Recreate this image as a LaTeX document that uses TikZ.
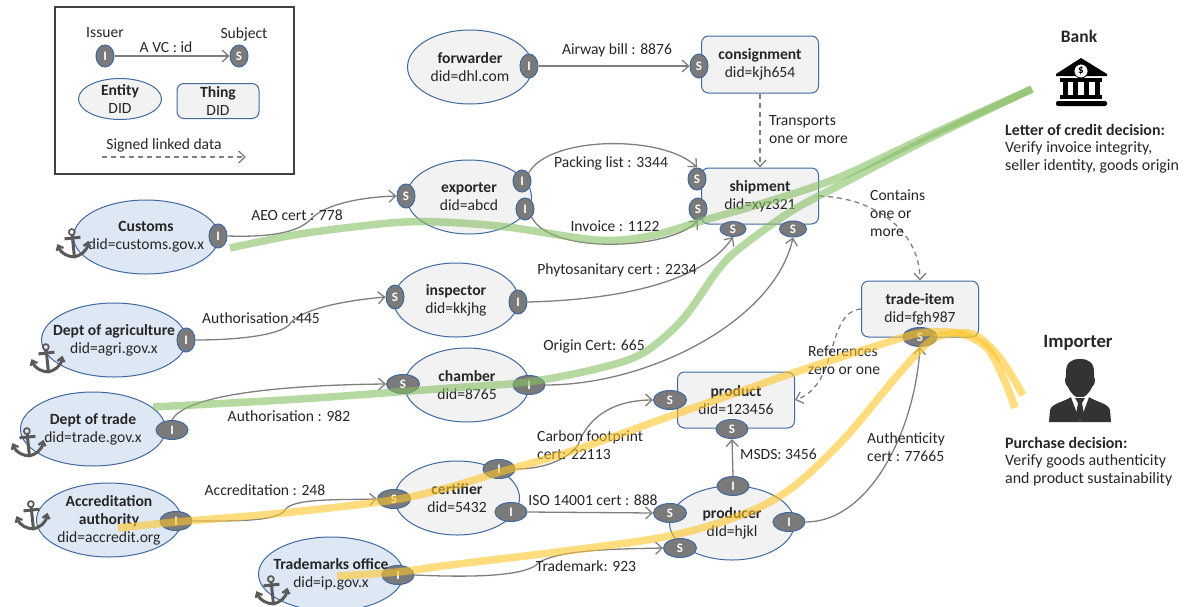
\documentclass[tikz,border=0pt]{standalone}
\usepackage{fontspec}
\setmainfont{Carlito}
\usetikzlibrary{shapes.geometric,arrows.meta}
\definecolor{ink}{HTML}{262626}
\definecolor{edge}{HTML}{7F7F7F}
\definecolor{blueline}{HTML}{41689F}
\definecolor{gov}{HTML}{DEE8F5}
\definecolor{pale}{HTML}{F2F2F2}
\definecolor{portfill}{HTML}{7A7A7A}
\definecolor{gr}{HTML}{86BE62}
\definecolor{ye}{HTML}{FFC527}
\definecolor{anchorc}{HTML}{595959}
\tikzset{
 x=1pt,y=-1pt,
 every node/.style={text=ink,font=\fontsize{15.6}{18}\selectfont,inner sep=0pt},
 lab/.style={align=left},
 entity/.style={ellipse,draw=blueline,line width=1pt,fill=pale,minimum width=125pt,minimum height=74pt,align=center,inner xsep=-30pt,inner ysep=-6pt},
 gov/.style={entity,fill=gov,minimum width=145pt},
 thing/.style={rectangle,rounded corners=7pt,draw=blueline,line width=1pt,fill=pale,minimum width=117pt,minimum height=56pt,align=center},
 portv/.style={ellipse,draw=blueline,line width=1pt,fill=portfill,text=white,font=\fontsize{13}{13}\selectfont\bfseries,minimum width=18pt,minimum height=24pt},
 porth/.style={portv,minimum width=32pt,minimum height=19pt},
 vc/.style={draw=edge,line width=1.3pt,-{Straight Barb[length=6.5pt,width=12pt]}},
 link/.style={vc,dash pattern=on 5pt off 4pt},
 thick green/.style={draw=gr,line width=7.5pt,opacity=.6,line cap=butt},
 thick yellow/.style={draw=ye,line width=7.5pt,opacity=.6,line cap=butt},
 anchoricon/.pic={
  \begin{scope}[draw=anchorc,line width=3pt,rotate=6]
   \draw[line width=1.7pt] (0,-11) circle (3);
   \draw (0,-8) -- (0,13);
   \draw (-8,-5) -- (8,-5);
   \draw (-15,2) .. controls (-13,10) and (-6,13) .. (0,14) .. controls (6,13) and (13,10) .. (15,2);
   \draw[line width=2.2pt] (-17,6) -- (-15,1) -- (-10,4);
   \draw[line width=2.2pt] (17,6) -- (15,1) -- (10,4);
  \end{scope}
 }
}
\begin{document}
\begin{tikzpicture}
\useasboundingbox (0,0) rectangle (1184,606);
% legend
\node[draw=black!75,line width=1.2pt,minimum width=239pt,minimum height=167pt] (legend) at (174.5,90.5) {};
\node (tIssuer) at (105,33) {Issuer};
\node (tSubject) at (244,34) {Subject};
\node[portv,minimum height=22pt] (lI) at (105,56) {I};
\node[portv,minimum height=22pt] (lS) at (239,56) {S};
\node (tvc) at (166,47) {A VC : id};
\node[entity,minimum width=83pt,minimum height=41pt,inner ysep=-12pt] (lE) at (120,99) {\textbf{Entity}\\DID};
\node[thing,minimum width=82pt,minimum height=35pt] (lT) at (218,101) {\textbf{Thing}\\DID};
\node (tsl) at (164,145) {Signed linked data};
\coordinate (ld1) at (102,157);
\coordinate (ld2) at (246,157);
% entities
\node[entity] (forwarder) at (470,67) {\textbf{forwarder}\\did=dhl.com};
\node[thing,minimum height=57pt] (consignment) at (760,64.5) {\textbf{consignment}\\did=kjh654};
\node[entity] (exporter) at (469,197) {\textbf{exporter}\\did=abcd};
\node[thing] (shipment) at (760,196) {\textbf{shipment}\\did=xyz321};
\node[gov] (customs) at (146,237) {\textbf{Customs}\\did=customs.gov.x};
\node[entity] (inspector) at (456,300) {\textbf{inspector}\\did=kkjhg};
\node[gov] (agri) at (114,340) {\textbf{Dept of agriculture}\\did=agri.gov.x};
\node[entity] (chamber) at (467,385) {\textbf{chamber}\\did=8765};
\node[gov] (trade) at (93,429) {\textbf{Dept of trade}\\did=trade.gov.x};
\node[gov] (accredit) at (109,520) {\textbf{Accreditation}\\\textbf{authority}\\did=accredit.org};
\node[gov] (ipo) at (331,574) {\textbf{Trademarks office}\\did=ip.gov.x};
\node[entity] (certifier) at (457,498) {\textbf{certifier}\\did=5432};
\node[thing] (product) at (736,400) {\textbf{product}\\did=123456};
\node[entity] (producer) at (732,523) {\textbf{producer}\\dId=hjkl};
\node[thing] (tradeitem) at (920,309) {\textbf{trade-item}\\did=fgh987};
% ports
\node[portv] (fI) at (529,66) {I};
\node[portv] (cS) at (699,66) {S};
\node[portv] (eS) at (406,196) {S};
\node[portv,minimum height=22pt] (eI1) at (522,181) {I};
\node[portv,minimum height=22pt] (eI2) at (525,209) {I};
\node[portv,minimum height=22pt] (sS1) at (697,179) {S};
\node[portv,minimum height=22pt] (sS2) at (698,209) {S};
\node[porth,minimum width=26pt,minimum height=15pt] (sB1) at (733,229) {S};
\node[porth,minimum width=27pt,minimum height=16pt] (sB2) at (793,229) {S};
\node[portv] (cuI) at (218,236) {I};
\node[portv] (iS) at (395,297) {S};
\node[portv] (iI) at (518,302) {I};
\node[portv] (aI) at (186,340) {I};
\node[porth] (tI) at (172,430) {I};
\node[porth,minimum width=33pt] (chS) at (403,384) {S};
\node[porth] (chI) at (529,385) {I};
\node[porth] (acI) at (176,521) {I};
\node[porth,minimum width=33pt] (ceS) at (394,499) {S};
\node[porth] (ceI1) at (499,469) {I};
\node[porth] (ceI2) at (511,512) {I};
\node[porth] (ipI) at (398,575) {I};
\node[porth,minimum width=33pt] (pS1) at (670,400) {S};
\node[porth] (pS2) at (732,429) {S};
\node[porth] (prI1) at (733,486) {I};
\node[porth,minimum width=33pt] (prS1) at (670,513) {S};
\node[porth,minimum width=33pt] (prS2) at (680,548) {S};
\node[porth] (prI2) at (789,522) {I};
\node[porth,minimum width=34pt] (tS) at (920,337) {S};
% connectors
\draw[vc] (lI) -- (lS);
\draw[link] (ld1) -- (ld2);
\draw[vc] (fI) -- (cS);
\draw[link] (consignment.south) -- (shipment.north);
\draw[vc] (cuI.east) .. controls (260,237) and (295,235) .. (310,220) .. controls (325,203) and (365,197) .. (eS.west);
\draw[vc] (eI1.north east) .. controls (550,135) and (665,135) .. (sS1.north);
\draw[vc] (eI2.south east) .. controls (550,255) and (670,250) .. (sS2.south);
\draw[vc] (iI.east) .. controls (610,300) and (700,285) .. (sB1.south);
\draw[vc] (aI.east) .. controls (240,340) and (278,335) .. (289,325) .. controls (300,308) and (350,300) .. (iS.west);
\draw[vc] (chI.east) .. controls (650,385) and (775,320) .. (sB2.south);
\draw[vc] (tI.north) .. controls (185,395) and (280,385) .. (chS.west);
\draw[vc] (acI.east) .. controls (230,521) and (278,522) .. (285,510) .. controls (292,498) and (340,500) .. (ceS.west);
\draw[vc] (ipI.east) .. controls (480,578) and (520,575) .. (535,566) .. controls (550,549) and (620,549) .. (prS2.west);
\draw[vc] (ceI1.east) .. controls (540,469) and (565,462) .. (578,445) .. controls (590,412) and (620,400) .. (pS1.west);
\draw[vc] (ceI2.east) -- (prS1.west);
\draw[vc] (prI1.north) -- (pS2.south);
\draw[vc] (prI2.east) .. controls (870,522) and (915,430) .. (tS.south);
\draw[link] (shipment.east) .. controls (880,198) and (920,235) .. (tradeitem.north);
\draw[link] (tradeitem.west) .. controls (825,312) and (840,385) .. (product.east);
% labels
\node (l1) at (617,50) {Airway bill :  8876};
\node[lab,anchor=west] (l2) at (769,130) {Transports\\one or more};
\node[lab,anchor=west] (l3) at (870,213) {Contains\\one or\\more};
\node (l4) at (611,163) {Packing list : 3344};
\node (l5) at (615,226) {Invoice : 1122};
\node (l6) at (617,270) {Phytosanitary cert : 2234};
\node (l7) at (297,215) {AEO cert : 778};
\node (l8) at (261,318) {Authorisation :445};
\node (l9) at (289,416) {Authorisation : 982};
\node (l10) at (265,490) {Accreditation : 248};
\node (l11) at (594,346) {Origin Cert: 665};
\node[lab,anchor=west] (l12) at (537,445.5) {Carbon footprint\\cert: 22113};
\node (l13) at (593,500) {ISO 14001 cert : 888};
\node[anchor=west] (l14) at (740,454) {MSDS: 3456};
\node[lab,anchor=west] (l15) at (808,360) {References\\zero or one};
\node[lab,anchor=west] (l16) at (867,447) {Authenticity\\cert : 77665};
\node (l17) at (586,566) {Trademark: 923};
% audit trails
\draw[thick green] plot[smooth,tension=.55] coordinates {(230,248) (300,234) (390,223) (440,222) (507,227) (597,240) (650,236) (705,220) (770,201) (840,177) (930,135) (1032,89)};
\draw[thick green] plot[smooth,tension=.55] coordinates {(153,407) (300,399) (450,388) (528,382) (600,368) (643,353) (682,320) (718,270) (740,248) (790,212) (840,185) (930,138) (1032,89)};
\draw[thick yellow] plot[smooth,tension=.55] coordinates {(118,528) (176,522) (283,513) (393,500) (450,487) (500,472) (575,450) (679,413) (793,373) (879,345) (921,333) (957,333) (986,347) (1003,377) (1015,408)};
\draw[thick yellow] plot[smooth,tension=.55] coordinates {(337,576) (398,572) (450,565) (557,552) (664,537) (736,517) (789,490) (843,440) (896,377) (929,342) (950,334) (975,335) (1000,358) (1023,395)};
% anchors
\pic (an1) at (73,243) {anchoricon};
\pic (an2) at (47,358) {anchoricon};
\pic (an3) at (28,442) {anchoricon};
\pic (an4) at (32,515) {anchoricon};
\pic (an5) at (272,590) {anchoricon};
% bank
\node[font=\fontsize{17.5}{18}\selectfont\bfseries] (bank) at (1079,36) {Bank};
\fill[black] (1081,58) -- (1107,74) -- (1107,76) -- (1056,76) -- (1056,74) -- cycle;
\fill[white,draw=black,line width=.8pt] (1081,71) circle (7);
\node[text=black,font=\fontsize{11}{11}\selectfont\bfseries] (dollar) at (1081,71) {\$};
\fill[black] (1060,78) rectangle (1102,82);
\fill[black] (1063,82) rectangle (1068,96);
\fill[black] (1073,82) rectangle (1078,96);
\fill[black] (1084,82) rectangle (1089,96);
\fill[black] (1095,82) rectangle (1100,96);
\fill[black] (1060,95) rectangle (1102,99);
\fill[black,rounded corners=2pt] (1056,101) rectangle (1107,106);
\node[lab,anchor=north west,font=\fontsize{15.9}{17.5}\selectfont] (bankt) at (1005,124) {\textbf{Letter of credit decision:}\\Verify invoice integrity,\\seller identity, goods origin};
% importer
\node[font=\fontsize{18.7}{18}\selectfont\bfseries] (importer) at (1078,343) {Importer};
\fill[black!80] (1066,372) .. controls (1066,362) and (1072,359) .. (1080,359) .. controls (1088,359) and (1094,362) .. (1094,372) .. controls (1094,376) and (1094,378) .. (1095,380) .. controls (1095,384) and (1093,386) .. (1092,387) .. controls (1089,394) and (1084,398) .. (1080,398) .. controls (1076,398) and (1071,394) .. (1068,387) .. controls (1067,386) and (1065,384) .. (1065,380) .. controls (1066,378) and (1066,376) .. (1066,372) -- cycle;
\fill[black!80] (1049,422) -- (1050,410) .. controls (1052,403) and (1064,402) .. (1071,397) -- (1089,397) .. controls (1096,402) and (1108,403) .. (1110,410) -- (1111,422) -- cycle;
\fill[white] (1071,397) -- (1089,397) -- (1080,421) -- cycle;
\fill[black!80] (1075,398) -- (1085,398) -- (1082,403) -- (1084,414) -- (1080,421) -- (1076,414) -- (1078,403) -- cycle;
\node[lab,anchor=north west,font=\fontsize{15.9}{17.5}\selectfont] (impt) at (1005,437) {\textbf{Purchase decision:}\\Verify goods authenticity\\and product sustainability};
\end{tikzpicture}
\end{document}
